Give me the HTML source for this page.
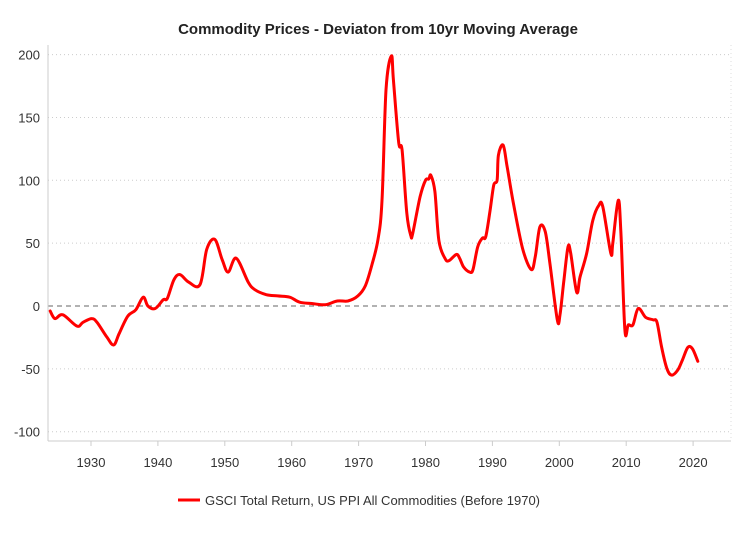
<!DOCTYPE html>
<html><head><meta charset="utf-8"><style>
body{margin:0;background:#fff;}
svg{display:block;font-family:"Liberation Sans",sans-serif;}
</style></head><body>
<svg id="chart" width="753" height="534">
<text x="378" y="34" text-anchor="middle" font-size="15" font-weight="bold" fill="#222">Commodity Prices - Deviaton from 10yr Moving Average</text>
<g id="grid"></g><g id="axes"></g><g id="series"></g>
<g>
<line x1="178" y1="500" x2="200" y2="500" stroke="#ff0000" stroke-width="3"/>
<text x="205" y="505" font-size="13" fill="#333">GSCI Total Return, US PPI All Commodities (Before 1970)</text>
</g>
</svg>
<script>
const years=[1923.9,1924.6,1925.8,1927.9,1928.8,1930.1,1930.9,1932.4,1933.4,1934.2,1935.5,1936.7,1937.8,1938.5,1939.6,1940.8,1941.4,1942.4,1943.3,1944.6,1946.3,1947.3,1948.5,1949.6,1950.5,1951.7,1953.5,1954.5,1956.2,1957.9,1959.7,1961.2,1963,1965,1966.8,1968.4,1969.9,1971,1972,1972.9,1973.5,1974.1,1974.9,1975.2,1976,1976.5,1977.2,1977.8,1978.1,1979.2,1980,1980.5,1980.8,1981.4,1982,1982.9,1983.5,1984.6,1985.1,1985.7,1986.6,1987.1,1987.8,1988.5,1989,1989.6,1990.2,1990.7,1990.9,1991.6,1992.2,1993.1,1994.5,1995.8,1996.4,1997.1,1997.9,1998.6,1999.7,2000.1,2000.7,2001.3,2001.7,2002.6,2003.1,2004.1,2005,2005.9,2006.5,2007.7,2008,2008.8,2009.2,2009.8,2010.3,2011,2011.8,2012.9,2014,2014.6,2015.3,2016.1,2016.8,2017.7,2018.4,2019.2,2019.9,2020.7];
const values=[-4,-10,-7,-16,-13,-10,-13,-25,-31,-22,-8,-3,7,0,-2,5,6,21,25,19,17,45,53,37,27,38,19,13,9,8,7,3,2,1,4,4,8,16,33,53,84,172,199,180,130,124,74,56,58,87,100,101,104,91,52,38,36,41,38,31,27,29,47,54,55,74,96,100,120,128,111,83,46,29,39,63,59,34,-11,-7,21,47,42,11,23,42,68,80,79,42,50,84,60,-19,-15,-15,-2,-9,-11,-13,-33,-50,-55,-51,-43,-33,-34,-44];
const yTicks=[200,150,100,50,0,-50,-100];
const xTicks=[1930,1940,1950,1960,1970,1980,1990,2000,2010,2020];
const NS="http://www.w3.org/2000/svg";
const X=y=>91+(y-1930)*6.69;
const Y=v=>306-v*1.257;
function mk(t,a,p){const e=document.createElementNS(NS,t);for(const k in a)e.setAttribute(k,a[k]);p.appendChild(e);return e;}
const grid=document.getElementById('grid'),axes=document.getElementById('axes'),ser=document.getElementById('series');
yTicks.forEach(v=>{
 const l=mk('line',{x1:48,x2:731,y1:Y(v),y2:Y(v),stroke:v===0?'#666':'#ccc','stroke-dasharray':v===0?'5,4':'1,3','stroke-width':1},grid);
 
 
 const t=mk('text',{x:40,y:Y(v)+5,'text-anchor':'end','font-size':13,fill:'#333'},axes);
 t.textContent=v;
 
 
});
mk('line',{x1:48,x2:48,y1:45,y2:441,stroke:'#ccc'},axes);
mk('line',{x1:731,x2:731,y1:45,y2:441,stroke:'#ddd','stroke-dasharray':'1,3'},axes);
mk('line',{x1:48,x2:731,y1:441,y2:441,stroke:'#ccc'},axes);
xTicks.forEach(yr=>{
 mk('line',{x1:X(yr),x2:X(yr),y1:441,y2:446,stroke:'#ccc'},axes);
 const t=mk('text',{x:X(yr),y:467,'text-anchor':'middle','font-size':13,fill:'#333'},axes);
 t.textContent=yr;
 
 
});
const pts=years.map((y,i)=>[X(y),Y(values[i])]);
let d='M'+pts[0][0].toFixed(1)+','+pts[0][1].toFixed(1);
for(let i=0;i<pts.length-1;i++){
 const p0=pts[Math.max(i-1,0)],p1=pts[i],p2=pts[i+1],p3=pts[Math.min(i+2,pts.length-1)];
 const c1=[p1[0]+(p2[0]-p0[0])/6,p1[1]+(p2[1]-p0[1])/6];
 const c2=[p2[0]-(p3[0]-p1[0])/6,p2[1]-(p3[1]-p1[1])/6];
 d+=' C'+c1[0].toFixed(1)+','+c1[1].toFixed(1)+' '+c2[0].toFixed(1)+','+c2[1].toFixed(1)+' '+p2[0].toFixed(1)+','+p2[1].toFixed(1);
}
const p=mk('path',{d:d,fill:'none',stroke:'#ff0000','stroke-width':3,'stroke-linejoin':'round','stroke-linecap':'round'},ser);


</script>
</body></html>
